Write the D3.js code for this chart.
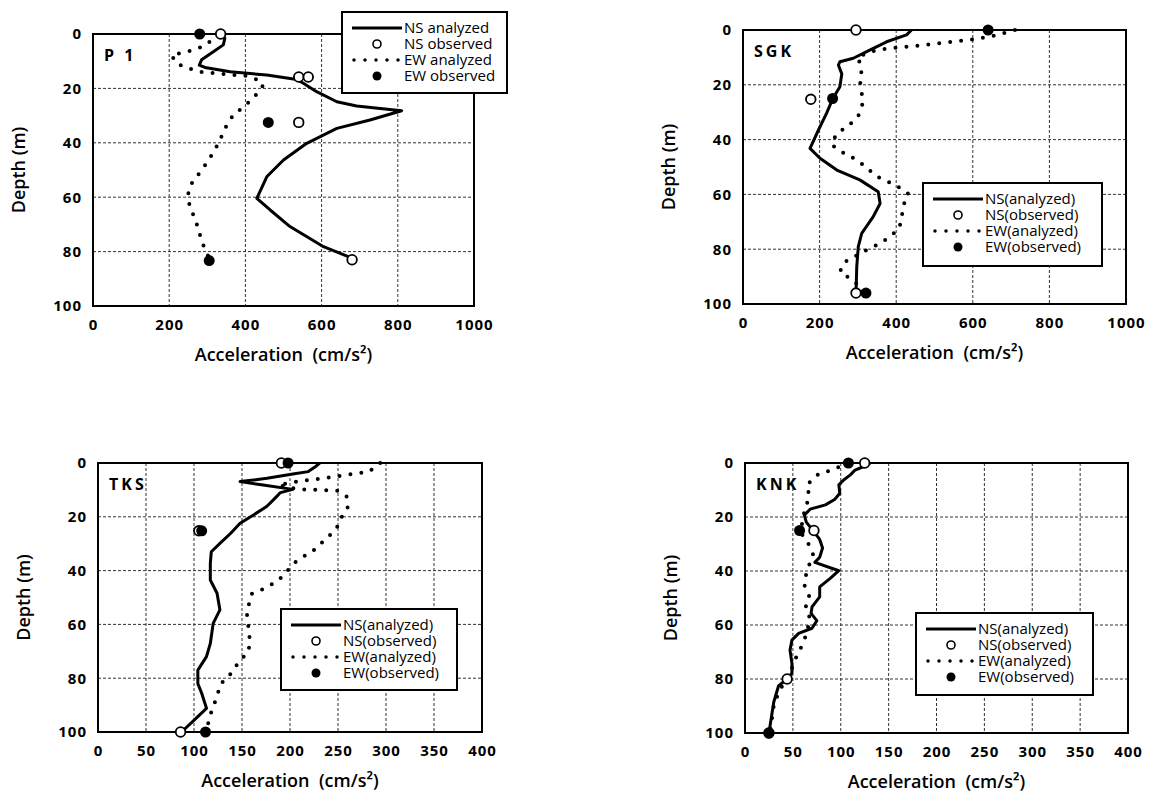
<!DOCTYPE html>
<html>
<head>
<meta charset="utf-8">
<script src="https://cdn.jsdelivr.net/npm/d3@7"></script>
<style>
  body { margin: 0; background: #fff; }
  svg { display: block; font-family: "Open Sans", sans-serif; }
</style>
</head>
<body>
<div id="chart"></div>
<script>
// tick values
const depthTicks = [0, 20, 40, 60, 80, 100];
const accTicksWide = [0, 200, 400, 600, 800, 1000];
const accTicksNarrow = [0, 50, 100, 150, 200, 250, 300, 350, 400];

// every series is [depth (m), acceleration (cm/s2)]
const p1NsAnalyzed = [[0,338],[1.6,346],[4,342],[7,311],[9.5,285],[11.4,279],[12.3,294],[13.9,360],[15.1,456],[16.7,535],[18.1,552],[21.2,587],[24.9,640],[26.5,692],[28.2,810],[31.6,727],[34.7,640],[40.2,561],[46.3,500],[52.5,456],[60.4,430],[64.7,465],[70.8,517],[78.2,605],[82.1,675]];
const p1NsObserved = [[0,335],[15.8,540],[15.8,565],[32.5,540],[83,680]];
const p1EwAnalyzed = [[0,325],[3.8,300],[5.6,270],[6.9,235],[7.7,206],[10.8,219],[12.6,250],[13.9,281],[14.7,340],[15.4,401],[16.7,430],[18.8,447],[23.3,423],[26.7,396],[29.8,368],[34.1,349],[38.4,335],[42.6,320],[46.9,301],[51.2,279],[55.5,256],[59.8,248],[63.7,255],[68.1,268],[72.3,278],[76.3,285],[80.6,300],[83,305]];
const p1EwObserved = [[0,280],[32.5,460],[83.3,305]];

const sgkNsAnalyzed = [[0,440],[1.8,427],[4.3,375],[7.9,323],[10.3,288],[11.6,253],[12.8,249],[16,258],[20.7,253],[24.9,235],[30.4,218],[36.5,197],[43.2,175],[46.8,201],[51.1,245],[54.7,305],[59,353],[63.3,358],[68.1,340],[74.2,310],[79.1,301],[86.4,297],[96.1,295]];
const sgkNsObserved = [[0,295],[25.3,177],[96,295]];
const sgkEwAnalyzed = [[0,710],[2.2,652],[3.6,591],[4.6,527],[5.6,466],[6.3,410],[7.3,349],[9.7,300],[14.6,310],[18.2,305],[22.8,310],[27,312],[31.4,301],[35,275],[38,243],[42,232],[44.8,262],[46.9,290],[49.6,318],[53.3,347],[56.8,401],[59.8,432],[63.9,419],[68.7,414],[72.4,408],[75.7,382],[78.5,349],[80.3,323],[84.6,266],[88.2,253],[90.7,279],[93.8,307],[96.4,312]];
const sgkEwObserved = [[0,640],[25,234],[96,321]];

const tksNsAnalyzed = [[0,231],[1.5,226],[3.2,219],[4.1,203],[5.7,176],[6.9,148],[8.2,172],[9.8,203],[11,190],[12.5,186],[16.1,176],[19.3,162],[22.4,148],[26.2,138],[29.9,127],[33,118],[37.3,117],[43.5,117],[48.4,124],[54.6,127],[59.6,120],[67.1,117],[72,113],[77,104],[82,104],[85.6,108],[91.2,113],[94.3,104],[100,87]];
const tksNsObserved = [[0,191],[25.2,105],[100,86]];
const tksEwAnalyzed = [[0,294],[3.3,282],[4.4,259],[5.7,235],[6.7,212],[7.3,200],[8.2,188],[9.8,209],[10,231],[10.3,249],[12.5,259],[16.5,260],[20.6,253],[24.7,248],[28.6,236],[32.1,226],[34.8,214],[37.5,203],[42,193],[44.7,183],[46.9,172],[48.7,160],[52.8,157],[57.1,155],[61.5,157],[65.5,158],[70.1,157],[73.8,147],[78.4,138],[82.5,127],[87.1,124],[91.2,119],[95.3,116],[100,112]];
const tksEwObserved = [[0,198],[25.2,108],[100,112]];

const knkNsAnalyzed = [[0,131],[1.3,124],[2.6,115],[4.4,110],[6.3,103],[8.1,98],[11.2,99],[13.4,94],[15.5,84],[17.1,68],[19.3,62],[21.9,64],[25,71],[28.3,78],[31.5,81],[34.9,78],[36.8,73],[39.9,98],[42.7,89],[45.9,78],[49.6,78],[53.3,70],[55.7,69],[58.4,75],[61.2,70],[63.1,56],[65.6,49],[69.3,47],[74.2,49],[77.9,49],[80.2,43],[82.6,35],[88.6,30],[100,25]];
const knkNsObserved = [[0,125],[25,72],[80,44],[100,25]];
const knkEwAnalyzed = [[0,108],[2.8,89],[4,77],[8,65],[12.5,67],[18,62],[23.6,59],[26.7,60],[30.4,67],[33.7,71],[40.9,64],[45.2,62],[49.3,67],[53.8,63],[57.5,68],[62,65],[66.7,61],[70.6,55],[75,50],[80,45],[84,36],[90,30],[100,26]];
const knkEwObserved = [[0,108],[25,57],[100,25]];

const legendPlain = ["NS analyzed", "NS observed", "EW analyzed", "EW observed"];
const legendParen = ["NS(analyzed)", "NS(observed)", "EW(analyzed)", "EW(observed)"];

const panels = [
    { name: "P 1", left: 93, right: 474, top: 34, bottom: 306, ticks: accTicksWide,
      ns: p1NsAnalyzed, nsObs: p1NsObserved, ew: p1EwAnalyzed, ewObs: p1EwObserved,
      legend: legendPlain, box: { x: 342, y: 12, w: 165, h: 81 } },
    { name: "SGK", left: 743, right: 1126, top: 30, bottom: 304, ticks: accTicksWide,
      ns: sgkNsAnalyzed, nsObs: sgkNsObserved, ew: sgkEwAnalyzed, ewObs: sgkEwObserved,
      legend: legendParen, box: { x: 923, y: 183, w: 179, h: 83 } },
    { name: "TKS", left: 98, right: 482, top: 463, bottom: 732, ticks: accTicksNarrow,
      ns: tksNsAnalyzed, nsObs: tksNsObserved, ew: tksEwAnalyzed, ewObs: tksEwObserved,
      legend: legendParen, box: { x: 281, y: 609, w: 176, h: 81 } },
    { name: "KNK", left: 745, right: 1128, top: 463, bottom: 733, ticks: accTicksNarrow,
      ns: knkNsAnalyzed, nsObs: knkNsObserved, ew: knkEwAnalyzed, ewObs: knkEwObserved,
      legend: legendParen, box: { x: 916, y: 613, w: 177, h: 82 } },
];

const svg = d3.select("#chart")
    .append("svg")
    .attr("width", 1152)
    .attr("height", 793);

panels.forEach(drawPanel);

function drawPanel(p) {
    const x = d3.scaleLinear()
        .domain(d3.extent(p.ticks))
        .range([p.left, p.right]);
    const y = d3.scaleLinear()
        .domain([0, 100])
        .range([p.top, p.bottom]);

    const g = svg.append("g");

    // dotted gridlines
    g.append("g")
        .selectAll("line")
        .data(p.ticks.slice(1, -1))
        .join("line")
        .attr("x1", (d) => x(d)).attr("x2", (d) => x(d))
        .attr("y1", p.top).attr("y2", p.bottom)
        .attr("stroke", "#333").attr("stroke-width", 1)
        .attr("stroke-dasharray", "3,2");
    g.append("g")
        .selectAll("line")
        .data(depthTicks.slice(1, -1))
        .join("line")
        .attr("x1", p.left).attr("x2", p.right)
        .attr("y1", (d) => y(d)).attr("y2", (d) => y(d))
        .attr("stroke", "#333").attr("stroke-width", 1)
        .attr("stroke-dasharray", "3,2");

    // frame
    g.append("rect")
        .attr("x", p.left).attr("y", p.top)
        .attr("width", p.right - p.left).attr("height", p.bottom - p.top)
        .attr("fill", "none").attr("stroke", "#000").attr("stroke-width", 2);

    // axes (labels only)
    const yAxis = g.append("g")
        .attr("transform", `translate(${p.left}, 0)`)
        .call(d3.axisLeft(y).tickValues(depthTicks).tickFormat(d3.format("d")).tickSize(0).tickPadding(11));
    const xAxis = g.append("g")
        .attr("transform", `translate(0, ${p.bottom})`)
        .call(d3.axisBottom(x).tickValues(p.ticks).tickFormat(d3.format("d")).tickSize(0).tickPadding(13));
    [xAxis, yAxis].forEach((a) => {
        a.select(".domain").remove();
        a.selectAll("text")
            .attr("fill", "#000")
            .style("font-family", "'Open Sans', sans-serif")
            .style("font-size", "15px")
            .style("font-weight", 700)
            .style("letter-spacing", "1px");
    });

    // axis titles
    g.append("text")
        .attr("transform", `translate(${p.left - 68}, ${(p.top + p.bottom) / 2}) rotate(-90)`)
        .attr("text-anchor", "middle")
        .style("font-size", "18px")
        .style("font-weight", 600)
        .text("Depth (m)");
    g.append("text")
        .attr("x", (p.left + p.right) / 2)
        .attr("y", p.bottom + 55)
        .attr("text-anchor", "middle")
        .style("font-size", "18px")
        .style("font-weight", 600)
        .text("Acceleration\u00a0 (cm/s\u00b2)");

    // station name
    g.append("text")
        .attr("x", p.left + 11)
        .attr("y", p.top + 27)
        .style("font-size", "16px")
        .style("font-weight", 700)
        .style("letter-spacing", "3px")
        .text(p.name);

    const line = d3.line()
        .x((d) => x(d[1]))
        .y((d) => y(d[0]));

    // EW analyzed: round dots
    g.append("path")
        .datum(p.ew)
        .attr("d", line)
        .attr("fill", "none")
        .attr("stroke", "#000")
        .attr("stroke-width", 4)
        .attr("stroke-linecap", "round")
        .attr("stroke-dasharray", "0,11");

    // NS analyzed: solid
    g.append("path")
        .datum(p.ns)
        .attr("d", line)
        .attr("fill", "none")
        .attr("stroke", "#000")
        .attr("stroke-width", 3)
        .attr("stroke-linejoin", "round");

    // observed points
    g.append("g")
        .selectAll("circle")
        .data(p.nsObs)
        .join("circle")
        .attr("cx", (d) => x(d[1]))
        .attr("cy", (d) => y(d[0]))
        .attr("r", 4.8)
        .attr("fill", "#fff")
        .attr("stroke", "#000")
        .attr("stroke-width", 1.8);
    g.append("g")
        .selectAll("circle")
        .data(p.ewObs)
        .join("circle")
        .attr("cx", (d) => x(d[1]))
        .attr("cy", (d) => y(d[0]))
        .attr("r", 5.5)
        .attr("fill", "#000");

    drawLegend(g, p);
}

function drawLegend(g, p) {
    const b = p.box;
    const lg = g.append("g");
    lg.append("rect")
        .attr("x", b.x).attr("y", b.y)
        .attr("width", b.w).attr("height", b.h)
        .attr("fill", "#fff")
        .attr("stroke", "#000")
        .attr("stroke-width", 2);

    const x0 = b.x + 10, x1 = b.x + 60, cx = b.x + 35;
    p.legend.forEach((label, i) => {
        const base = b.y + 21 + i * 16;
        const mid = base - 5;
        if (i === 0) {
            lg.append("line")
                .attr("x1", x0).attr("x2", x1).attr("y1", mid).attr("y2", mid)
                .attr("stroke", "#000").attr("stroke-width", 3);
        } else if (i === 1) {
            lg.append("circle")
                .attr("cx", cx).attr("cy", mid).attr("r", 4)
                .attr("fill", "#fff").attr("stroke", "#000").attr("stroke-width", 1.6);
        } else if (i === 2) {
            lg.append("line")
                .attr("x1", x0 + 2).attr("x2", x1).attr("y1", mid).attr("y2", mid)
                .attr("stroke", "#000").attr("stroke-width", 3.5)
                .attr("stroke-linecap", "round")
                .attr("stroke-dasharray", "0,11");
        } else {
            lg.append("circle")
                .attr("cx", cx).attr("cy", mid).attr("r", 4.5)
                .attr("fill", "#000");
        }
        lg.append("text")
            .attr("x", x1 + 2)
            .attr("y", base)
            .style("font-size", "15px")
            .style("font-weight", 500)
            .text(label);
    });
}
</script>
</body>
</html>
